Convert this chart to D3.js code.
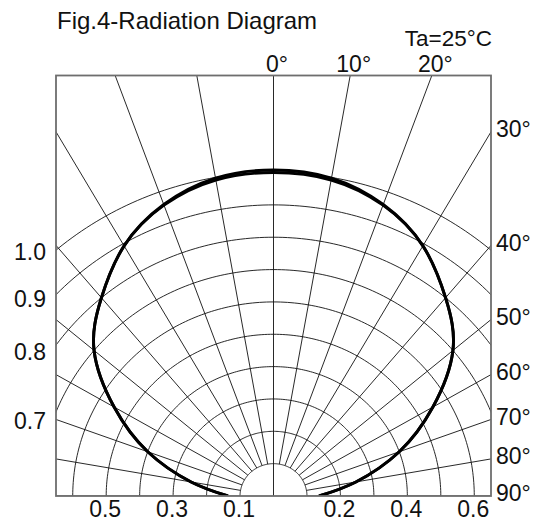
<!DOCTYPE html>
<html>
<head>
<meta charset="utf-8">
<script src="https://cdn.jsdelivr.net/npm/d3@7"></script>
<style>
  html, body { margin: 0; padding: 0; background: #fff; }
  text { font-family: "Liberation Sans", Arial, sans-serif; fill: #111; }
</style>
</head>
<body>
<div id="chart"></div>
<script>
/* --- data -------------------------------------------------------------- */
const angles    = [-90, -80, -70, -60, -50, -40, -30, -20, -10, 0, 10, 20, 30, 40, 50, 60, 70, 80, 90];
// relative intensity, two overlapping traces (they split a little at the top)
const traceA    = [0.136, 0.25, 0.40, 0.55, 0.70, 0.80, 0.893, 0.957, 0.992, 1.00, 0.992, 0.957, 0.893, 0.80, 0.70, 0.55, 0.40, 0.25, 0.136];
const traceB    = [0.136, 0.25, 0.40, 0.55, 0.70, 0.80, 0.893, 0.959, 0.998, 1.008, 0.998, 0.959, 0.893, 0.80, 0.70, 0.55, 0.40, 0.25, 0.136];
const rings     = [0.1, 0.2, 0.3, 0.4, 0.5, 0.6, 0.7, 0.8, 0.9, 1.0];
const spokes    = d3.range(-90, 91, 10);
const topTicks  = [0, 10, 20];
const sideTicks = [30, 40, 50, 60, 70, 80, 90];
const leftTicks = [1.0, 0.9, 0.8, 0.7];
const botLeft   = [0.5, 0.3, 0.1];
const botRight  = [0.2, 0.4, 0.6];

/* --- layout ------------------------------------------------------------ */
const W = 546, H = 523;
const xMax = 0.65, yMax = 1.3;
const x = d3.scaleLinear().domain([-xMax, xMax]).range([56, 491]);
const y = d3.scaleLinear().domain([0, yMax]).range([496, 75.5]);
const px = (r, a) => x(r * Math.sin(a * Math.PI / 180));
const py = (r, a) => y(r * Math.cos(a * Math.PI / 180));

const svg = d3.select("#chart").append("svg")
  .attr("width", W).attr("height", H);

svg.append("clipPath").attr("id", "frame")
  .append("rect")
    .attr("x", x(-xMax)).attr("y", y(yMax))
    .attr("width", x(xMax) - x(-xMax)).attr("height", y(0) - y(yMax));

const grid = svg.append("g").attr("clip-path", "url(#frame)")
  .attr("fill", "none").attr("stroke", "#111").attr("stroke-width", 0.9);

/* --- rings ------------------------------------------------------------- */
const half = d3.range(-90, 90.5, 1);
const ringLine = r => d3.line().x(a => px(r, a)).y(a => py(r, a))(half);
grid.selectAll("path.ring").data(rings).join("path")
  .attr("class", "ring").attr("d", ringLine);

/* --- spokes ------------------------------------------------------------ */
grid.selectAll("line.spoke").data(spokes).join("line")
  .attr("class", "spoke")
  .attr("x1", a => px(a === 0 ? 0 : 0.1, a)).attr("y1", a => py(a === 0 ? 0 : 0.1, a))
  .attr("x2", a => px(2, a)).attr("y2", a => py(2, a));

/* --- pattern curves ---------------------------------------------------- */
const curve = vals => d3.line()
  .x((a, i) => px(vals[i], a))
  .y((a, i) => py(vals[i], a))
  .curve(d3.curveNatural)(angles);

[traceA, traceB].forEach(vals => {
  svg.append("path")
    .attr("d", curve(vals))
    .attr("fill", "none").attr("stroke", "#000")
    .attr("stroke-width", 2.9)
    .attr("clip-path", "url(#frame)");
});

/* --- frame ------------------------------------------------------------- */
svg.append("rect")
  .attr("x", x(-xMax)).attr("y", y(yMax))
  .attr("width", x(xMax) - x(-xMax)).attr("height", y(0) - y(yMax))
  .attr("fill", "none").attr("stroke", "#6e6e6e").attr("stroke-width", 1.8);

/* --- labels ------------------------------------------------------------ */
const fs = "23px";
const deg = d => d + "\u00B0";

svg.append("text").attr("x", 57).attr("y", 29)
  .style("font-size", "24px").text("Fig.4-Radiation Diagram");

svg.append("text").attr("x", x(xMax) + 1).attr("y", 46)
  .attr("text-anchor", "end").style("font-size", "22.5px").text("Ta=25\u00B0C");

svg.selectAll("text.top").data(topTicks).join("text")
  .attr("class", "top")
  .attr("x", a => x(yMax * Math.tan(a * Math.PI / 180)) + 3.5)
  .attr("y", y(yMax) - 3.5)
  .attr("text-anchor", "middle").style("font-size", fs).text(deg);

svg.selectAll("text.side").data(sideTicks).join("text")
  .attr("class", "side")
  .attr("x", x(xMax) + 5)
  .attr("y", a => y(xMax / Math.tan(a * Math.PI / 180)) - 3)
  .attr("dy", "0.36em").style("font-size", fs).text(deg);

svg.selectAll("text.left").data(leftTicks).join("text")
  .attr("class", "left")
  .attr("x", x(-xMax) - 10)
  .attr("y", r => y(Math.sqrt(r * r - xMax * xMax)) + 2 + (1 - r) * 23)
  .attr("dy", "0.36em")
  .attr("text-anchor", "end").style("font-size", fs).text(d3.format(".1f"));

svg.selectAll("text.bot").data(botLeft.map(v => [-v, v]).concat(botRight.map(v => [v, v]))).join("text")
  .attr("class", "bot")
  .attr("x", d => x(d[0]) - 1)
  .attr("y", y(0) + 21)
  .attr("text-anchor", "middle").style("font-size", fs).text(d => d3.format(".1f")(d[1]));
</script>
</body>
</html>
